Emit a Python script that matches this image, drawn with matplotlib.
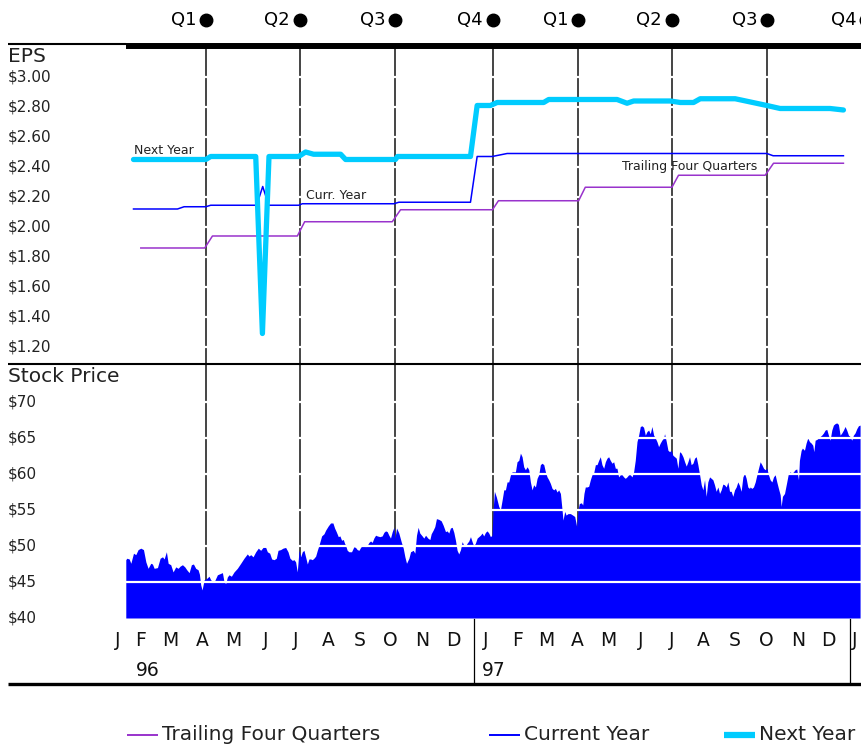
import numpy as np
import pandas as pd
import matplotlib
matplotlib.use('Agg')
import matplotlib.pyplot as plt
import matplotlib.transforms as mtrans
from matplotlib.lines import Line2D

plt.rcParams['font.family'] = ['DejaVu Sans']

# x values are days since 1996-01-01
# ---- EPS estimates ----
next_days = [34.3, 104.6, 109.4, 153.2, 159.7, 166.1, 195.0, 201.7, 209.5, 235.8, 240.6, 289.1, 291.1, 362.1,
             368.6, 381.5, 388.0, 433.3, 438.2, 504.7, 514.4, 520.9, 556.5, 566.2, 579.1, 585.6, 619.6,
             650.4, 663.3, 711.9, 724.9]
next_eps = [2.45, 2.45, 2.47, 2.47, 1.29, 2.47, 2.47, 2.50, 2.485, 2.485, 2.45, 2.45, 2.47, 2.47,
            2.81, 2.81, 2.83, 2.83, 2.85, 2.85, 2.825, 2.84, 2.84, 2.83, 2.83, 2.855, 2.855,
            2.81, 2.79, 2.79, 2.78]

curr_days = [34.3, 77.1, 83.5, 104.6, 109.4, 154.1, 160.0, 165.8, 195.0, 198.5, 287.6, 292.4, 362.1,
             368.6, 383.2, 397.8, 650.4, 656.5, 724.9]
curr_eps = [2.12, 2.12, 2.135, 2.135, 2.145, 2.145, 2.27, 2.145, 2.145, 2.155, 2.155, 2.165, 2.165,
            2.47, 2.47, 2.49, 2.49, 2.475, 2.475]

trail_days = [41.4, 103.6, 111.1, 193.7, 200.8, 286.0, 294.1, 383.5, 389.3, 467.3, 473.8, 558.1,
              564.5, 648.8, 656.9, 724.9]
trail_eps = [1.86, 1.86, 1.94, 1.94, 2.035, 2.035, 2.115, 2.115, 2.175, 2.175, 2.265, 2.265,
             2.345, 2.345, 2.425, 2.425]

# ---- stock price ----
price_days = [
    26.8, 27.8, 30.1, 31.7, 34.3, 36.5, 38.8, 41.4, 44.0, 46.3, 48.5, 51.1, 52.7, 54.4, 57.6, 60.2,
    62.5, 64.1, 66.3, 68.0, 70.5, 72.8, 75.4, 77.7, 79.6, 81.9, 84.2, 86.1, 88.4, 90.6, 92.6, 94.8,
    97.1, 98.4, 99.7, 101.0, 103.0, 105.5, 107.8, 109.4, 112.7, 115.9, 119.1, 120.8, 122.4, 124.0,
    125.6, 127.2, 129.5, 132.1, 135.3, 138.6, 141.8, 145.0,
    146.7, 148.3, 150.6, 153.2, 155.7, 158.0, 160.3, 162.9, 164.5, 166.8, 168.7, 171.0, 173.2, 174.9,
    177.4, 179.7, 182.3, 184.6, 186.5, 188.8, 190.4, 192.0, 193.6, 195.3, 196.9, 198.5, 200.1, 201.7,
    203.4, 205.0, 206.6, 208.2, 209.8, 211.5, 213.1, 214.7, 217.3, 219.6, 221.2, 223.8, 226.0, 228.3,
    229.9, 231.5, 233.5, 235.1, 236.7, 238.4, 239.6, 240.6, 242.2, 243.9, 246.4, 248.7, 250.3, 251.9,
    253.6, 255.2, 256.8, 258.4, 260.0, 261.7, 263.3, 264.9, 266.5, 268.1,
    269.8, 271.4, 274.0, 276.2, 277.9, 279.5, 281.1, 282.7, 284.3, 286.0, 287.6, 288.6, 290.2, 292.4,
    294.7, 296.7, 298.3, 299.9, 302.2, 303.8, 306.4, 308.0, 309.6, 311.2, 312.8, 315.1, 316.7, 318.4,
    320.6, 322.6, 323.9, 325.8, 327.4, 329.0, 331.3, 333.6, 335.5, 337.8, 339.4, 341.0, 342.6, 344.3,
    345.9, 347.5, 349.1, 350.7, 352.4, 354.0, 355.6, 357.2, 358.9, 360.5, 362.1, 363.7, 365.3, 366.9,
    368.6, 370.2, 371.8, 373.4, 375.0, 376.7, 378.3, 379.9, 381.5, 383.1, 384.1, 385.4, 387.3, 389.6,
    391.2, 392.9, 394.5, 396.1, 397.7, 399.3, 401.0, 402.6, 404.2, 405.8, 407.4, 409.1, 410.7, 412.3,
    413.9, 415.5, 417.2, 418.8, 420.4, 422.0, 423.6, 425.3, 426.9, 428.5, 430.1, 431.7, 433.4, 435.0,
    436.6, 438.2, 439.8, 441.5, 443.1, 444.7, 446.3, 447.9, 449.6, 451.2, 452.1, 453.8, 455.1, 457.0,
    459.3, 461.5, 463.5, 465.4, 466.7, 468.0, 470.0, 471.3, 472.5, 473.8, 475.5, 477.1, 478.7, 480.3,
    481.9, 483.6, 485.2, 486.8, 488.4, 490.0, 491.7, 493.3, 494.9, 496.5, 498.1, 499.8, 501.4, 503.0,
    504.6, 506.2, 507.9, 509.5, 511.1, 512.7,
    514.3, 516.0, 517.6, 519.2, 520.8, 522.4, 524.1, 525.7, 527.3, 528.9, 530.5, 532.2, 533.8, 535.4,
    537.0, 538.6, 540.3, 541.9, 543.5, 545.1, 546.7, 548.3, 550.0, 550.9, 552.6, 554.2, 555.8, 557.4,
    559.0, 560.7, 562.3, 563.9, 565.5, 567.1, 568.8, 570.4, 572.0, 573.6, 575.2, 576.8, 578.5, 580.1,
    581.7, 583.3, 585.0, 586.6, 588.2, 589.8, 591.4, 593.0, 594.7, 596.3, 597.9, 599.5, 601.1, 602.8,
    604.4, 606.0, 607.6, 609.2, 610.9, 612.5, 614.1, 615.7, 617.3, 619.0, 620.6, 622.2, 623.8, 625.4,
    627.1, 628.7, 630.3, 631.9, 633.5,
    634.2, 635.8, 637.4, 639.1, 640.7, 642.3, 643.9, 645.5, 647.2, 648.8, 650.4, 652.0, 653.6, 655.3,
    656.9, 658.5, 660.1, 661.7, 663.4, 664.3, 665.6, 667.6, 669.8, 671.4, 673.1, 674.7, 676.3, 677.9,
    679.5, 681.2, 682.1, 683.8, 685.0, 687.0, 688.6, 690.2, 691.9, 693.5, 695.1, 696.1, 697.4, 699.0,
    700.6, 702.2, 703.8, 705.5, 707.1, 708.7, 710.3, 711.9, 713.6, 715.2, 716.8, 718.4, 720.0, 721.7,
    723.3, 724.9, 726.5, 728.1, 729.8, 731.4, 733.0, 734.6, 736.2, 737.9, 739.5, 741.1]
price_vals = [
    48.1, 48.3, 48.2, 47.6, 49.0, 48.8, 49.5, 49.7, 49.5, 47.8, 46.9, 47.6, 47.5, 46.9, 47.0, 48.3,
    48.5, 48.2, 49.2, 47.6, 47.4, 46.4, 47.1, 46.9, 47.2, 47.4, 47.1, 46.7, 46.3, 47.4, 47.5, 46.9,
    46.7, 46.1, 44.6, 43.9, 45.3, 45.5, 45.8, 45.3, 45.0, 46.0, 46.2, 46.3, 45.0, 44.8,
    45.7, 46.0, 45.8, 46.4, 46.9, 47.6, 48.3, 48.9,
    48.6, 48.8, 48.5, 49.2, 49.7, 49.4, 49.8, 49.8, 49.2, 49.0, 48.2, 48.1, 48.3, 49.4,
    49.5, 49.7, 49.8, 49.2, 48.3, 48.0, 48.1, 47.8, 46.4, 49.4, 48.5, 49.2, 49.4, 48.5,
    47.5, 48.2, 48.2, 48.1, 48.3, 48.6, 49.4, 50.1, 51.4, 51.7, 52.2, 52.8, 53.2, 53.2,
    52.5, 52.0, 51.3, 51.4, 50.8, 50.9, 50.4, 50.1, 49.4, 49.2, 49.2, 49.9, 49.8, 49.5,
    49.4, 49.8, 50.1, 50.1, 49.9, 50.1, 50.5, 50.7, 50.5, 51.1,
    51.5, 51.4, 51.3, 51.4, 51.9, 52.1, 52.0, 51.5, 51.1, 52.0, 52.6, 51.1, 52.5, 51.8,
    50.6, 49.7, 48.5, 47.6, 48.3, 49.2, 49.4, 49.0, 51.5, 52.6, 51.8, 51.4, 51.1, 51.5,
    51.1, 50.9, 51.7, 52.2, 52.7, 53.8, 53.7, 53.5, 52.9, 52.0, 52.1, 51.8, 52.5, 52.6,
    51.9, 50.8, 49.4, 48.9, 49.5, 50.6, 50.1, 50.0, 50.4, 50.7, 51.3, 50.6, 50.0, 50.4,
    51.1, 51.3, 51.5, 51.8, 51.4, 51.9, 52.1, 51.8, 51.3, 51.5, 55.0, 57.6, 56.8, 55.5,
    55.0, 56.4, 57.8, 57.8, 58.9, 58.9, 59.9, 60.3, 60.3, 60.3, 61.7, 61.9, 62.9, 62.4,
    61.0, 60.6, 61.0, 60.6, 58.9, 57.8, 58.5, 58.2, 59.4, 59.9, 61.3, 61.5, 61.3, 60.3,
    59.6, 59.2, 58.7, 58.0, 57.8, 58.0, 57.5, 57.8, 57.3, 55.0, 53.6, 54.8, 54.3, 54.5,
    54.5, 54.3, 54.1, 52.7, 55.0, 55.9, 56.0, 55.7, 57.3, 58.2, 58.2, 58.3, 59.2, 59.9,
    60.1, 61.3, 61.3, 61.9, 62.4, 61.3, 60.8, 61.7, 62.2, 62.4, 61.9, 61.5, 61.7, 60.8,
    60.8, 59.6, 59.9, 59.9, 59.6, 59.4,
    59.6, 59.9, 59.9, 59.6, 60.3, 61.9, 64.5, 65.4, 66.6, 66.7, 66.5, 65.4, 65.9, 66.1,
    65.6, 66.6, 65.4, 65.0, 64.5, 63.8, 64.3, 64.7, 65.0, 65.6, 64.5, 63.3, 63.1, 63.3,
    62.6, 62.4, 62.2, 60.8, 63.1, 62.9, 62.4, 61.7, 61.1, 61.7, 62.4, 61.3, 61.5, 62.2,
    62.4, 61.3, 59.9, 58.5, 57.8, 59.2, 56.9, 58.9, 59.6, 59.4, 59.2, 58.5, 57.6, 58.2,
    57.3, 57.8, 58.6, 58.5, 58.2, 58.9, 57.6, 57.6, 56.9, 57.8, 58.2, 58.9, 58.4, 57.6,
    59.6, 60.1, 59.4, 58.2, 58.0,
    58.2, 58.0, 58.2, 58.9, 59.9, 60.8, 61.7, 61.3, 60.8, 60.6, 60.8, 59.9, 59.2, 58.9,
    59.6, 59.9, 58.9, 58.0, 57.1, 55.5, 56.9, 57.3, 58.9, 60.1, 60.3, 60.1, 60.3, 60.6,
    60.7, 59.2, 61.9, 63.3, 63.6, 63.3, 64.3, 65.0, 64.5, 64.3, 64.0, 63.1, 64.7, 64.8,
    65.0, 65.2, 65.4, 65.7, 66.1, 66.2, 65.4, 64.7, 66.1, 66.8, 67.0, 67.1, 66.9, 65.4,
    65.7, 66.1, 66.6, 66.1, 65.4, 65.2, 64.7, 65.4, 65.7, 66.3, 66.7, 66.8]

eps_ticks = [3.00, 2.80, 2.60, 2.40, 2.20, 2.00, 1.80, 1.60, 1.40, 1.20]
price_ticks = [70, 65, 60, 55, 50, 45, 40]
price_grid = [45, 50, 55, 60, 65, 70]

# earnings report dates and labels
q_days = [105, 196, 289, 384, 467, 558, 651, 747]
q_labels = ['Q1', 'Q2', 'Q3', 'Q4', 'Q1', 'Q2', 'Q3', 'Q4']

month_letters = list('JFMAMJJASOND') * 2 + ['J']
month_starts = (pd.date_range('1996-01-01', '1998-01-01', freq='MS')
                - pd.Timestamp('1996-01-01')).days.values
year_labels = ['96', '97']
year_label_days = [36.5, 373]
year_breaks = [366, 731]

W, H = 861, 746
fig = plt.figure(figsize=(W / 100, H / 100), dpi=100)


def fx(px):
    return px / W


def fy(py):
    return 1 - py / H


axE = fig.add_axes([fx(126), fy(363), fx(861) - fx(126), fy(45) - fy(363)])
axP = fig.add_axes([fx(126), fy(618), fx(861) - fx(126), fy(363) - fy(618)])
for ax in (axE, axP):
    ax.set_xlim(27, 742)
    ax.set_axis_off()
axE.set_ylim(1.0933, 3.2133)
axP.set_ylim(40, 75.42)

grey = '#444444'
txt = '#222222'

for d in q_days[:-1]:
    axE.axvline(d, color=grey, lw=1.4, zorder=1)
    axP.axvline(d, color=grey, lw=1.4, zorder=1)

for v in eps_ticks:
    axE.axhline(v, color='white', lw=1.6, zorder=2)

axE.plot(trail_days, trail_eps, color='#9933CC', lw=1.1, zorder=4)
axE.plot(curr_days, curr_eps, color='#0000FF', lw=1.1, zorder=4)
axE.plot(next_days, next_eps, color='#00CCFF', lw=3.8, zorder=5,
         solid_capstyle='round', solid_joinstyle='round')

axE.text(34.3, 2.509, 'Next Year', fontsize=9, color=txt, ha='left', va='center')
axE.text(201.7, 2.213, 'Curr. Year', fontsize=9, color=txt, ha='left', va='center')
axE.text(509.5, 2.402, 'Trailing Four Quarters', fontsize=9, color=txt, ha='left', va='center')

axP.fill_between(price_days, 40, price_vals, color='#0000FF', lw=0, zorder=2)
for v in price_grid:
    axP.axhline(v, color='white', lw=1.6, zorder=3)

# y tick labels at the left margin
tE = mtrans.blended_transform_factory(fig.transFigure, axE.transData)
for v in eps_ticks:
    fig.text(fx(8), v, '$%.2f' % v, transform=tE, fontsize=11, color=txt, ha='left', va='center')
tP = mtrans.blended_transform_factory(fig.transFigure, axP.transData)
for v in price_ticks:
    fig.text(fx(8), v, '$%d' % v, transform=tP, fontsize=11, color=txt, ha='left', va='center')

fig.text(fx(8), fy(57), 'EPS', fontsize=14.5, color=txt, ha='left', va='center')
fig.text(fx(8), fy(376), 'Stock Price', fontsize=14.5, color=txt, ha='left', va='center')

# quarter markers on top
tTop = mtrans.blended_transform_factory(axE.transData, fig.transFigure)
tTopTxt = mtrans.offset_copy(tTop, fig=fig, x=-10, y=0, units='dots')
for d, lab in zip(q_days, q_labels):
    fig.text(d, fy(20), lab, transform=tTopTxt, fontsize=13, color='black', ha='right', va='center')
    fig.add_artist(Line2D([d], [fy(19.5)], transform=tTop, marker='o', ms=9,
                          color='black', ls='none'))

# frame lines
fig.add_artist(Line2D([fx(8), fx(126)], [fy(44), fy(44)], color='black', lw=1.5,
                      solid_capstyle='butt'))
fig.add_artist(Line2D([fx(126), fx(861)], [fy(46), fy(46)], color='black', lw=4.3,
                      solid_capstyle='butt'))
fig.add_artist(Line2D([fx(8), fx(861)], [fy(363.7), fy(363.7)], color='black', lw=1.5,
                      solid_capstyle='butt'))
fig.add_artist(Line2D([fx(8), fx(861)], [fy(683.5), fy(683.5)], color='black', lw=2.4,
                      solid_capstyle='butt'))

# month axis
tBot = mtrans.blended_transform_factory(axP.transData, fig.transFigure)
for d, m in zip(month_starts, month_letters):
    xm = min(max(d + 10.5, 19), 736)
    fig.text(xm, fy(640), m, transform=tBot, fontsize=13.5, color='#111111',
             ha='center', va='center')
for d, y in zip(year_label_days, year_labels):
    fig.text(d, fy(671), y, transform=tBot, fontsize=13.5, color='#111111', ha='left', va='center')
for d in year_breaks:
    fig.add_artist(Line2D([d, d], [fy(619), fy(683)], transform=tBot, color='black', lw=0.9))

# legend
leg = [('Trailing Four Quarters', '#9933CC', 1.4, 127),
       ('Current Year', '#0000FF', 1.4, 489),
       ('Next Year', '#00CCFF', 4.5, 724)]
for lab, c, lw, x0 in leg:
    fig.add_artist(Line2D([fx(x0), fx(x0 + 31)], [fy(735), fy(735)], color=c, lw=lw,
                          solid_capstyle='butt'))
    fig.text(fx(x0 + 35), fy(735), lab, fontsize=14.5, color=txt, ha='left', va='center')

fig.savefig('out.png', dpi=100)
